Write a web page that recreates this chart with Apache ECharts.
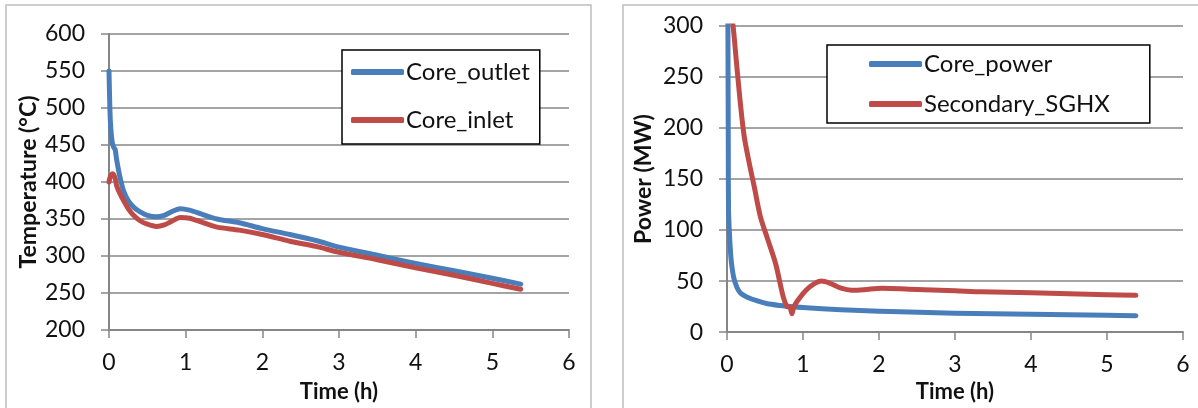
<!DOCTYPE html>
<html>
<head>
<meta charset="utf-8">
<script src="https://cdn.jsdelivr.net/npm/echarts@6/dist/echarts.min.js"></script>
<style>
  html, body { margin: 0; padding: 0; background: #fff; }
  #chart { width: 1198px; height: 408px; }
</style>
</head>
<body>
<div id="chart"></div>
<script>
// left panel: temperatures
const outletTime = [0, 0.01, 0.02, 0.04, 0.06, 0.08, 0.1, 0.14, 0.19, 0.25, 0.32, 0.4, 0.5, 0.62, 0.72, 0.82, 0.93, 1.05, 1.2, 1.41, 1.7, 2, 2.36, 2.7, 3, 3.5, 4, 4.5, 5, 5.37];
const coreOutlet = [550, 505, 478, 455, 447, 444, 430, 408, 388, 375, 366, 360, 355, 353, 355, 360, 364, 362, 357, 350, 345, 337, 329, 321, 312, 301, 290, 280, 270, 262];
const inletTime = [0, 0.02, 0.05, 0.08, 0.1, 0.14, 0.19, 0.25, 0.32, 0.4, 0.5, 0.62, 0.72, 0.82, 0.93, 1.05, 1.2, 1.41, 1.7, 2, 2.36, 2.7, 3, 3.5, 4, 4.5, 5, 5.37];
const coreInlet = [400, 408, 411, 405, 395, 385, 375, 364, 355, 348, 343, 340, 342, 347, 352, 351, 346, 339, 335, 329, 320, 313, 305, 295, 284, 274, 263, 255];

// right panel: power
const powerTime = [0, 0.012, 0.017, 0.02, 0.03, 0.045, 0.06, 0.09, 0.13, 0.18, 0.26, 0.4, 0.52, 0.7, 0.83, 1, 1.5, 2, 2.28, 3, 4, 5, 5.38];
const corePower = [800, 300, 180, 120, 100, 80, 67, 53, 44, 38, 34.5, 30.5, 28, 26, 25, 24, 22, 20.5, 20, 18.5, 17.5, 16.5, 16];
const sghxTime = [0, 0.04, 0.08, 0.12, 0.15, 0.193, 0.23, 0.3, 0.36, 0.44, 0.54, 0.64, 0.74, 0.79, 0.83, 0.855, 0.88, 0.95, 1.04, 1.14, 1.24, 1.35, 1.5, 1.64, 1.8, 2.04, 2.4, 3, 3.35, 4, 4.5, 5, 5.38];
const sghxPower = [345, 320, 300, 268, 244, 212, 190, 163, 142, 113, 90, 67, 34.5, 25, 24, 18, 25, 33, 41, 47, 50, 48, 43, 41, 41.5, 43, 42, 40.5, 39.5, 38.5, 37.5, 36.5, 36];

const xTicks = [0, 1, 2, 3, 4, 5, 6];

const zip = (t, v) => t.map((x, i) => [x, v[i]]);

const FONT = 'Lato';
const GRAY = '#868686';
const BLUE = '#4a7ebb';
const RED = '#be4b48';

function xAxisFor(gi) {
  return {
    type: 'value', gridIndex: gi, min: xTicks[0], max: xTicks[xTicks.length - 1], interval: 1,
    name: 'Time (h)', nameLocation: 'middle', nameGap: gi === 0 ? 51 : 48,
    nameTextStyle: { fontFamily: FONT, fontWeight: 'bold', fontSize: 22, color: '#111' },
    axisLine: { show: true, lineStyle: { color: GRAY, width: 2 } },
    axisTick: { show: true, length: 8, lineStyle: { color: GRAY, width: 1.5 } },
    axisLabel: { fontFamily: FONT, fontSize: 23, color: '#111', margin: 21 },
    splitLine: { show: false }
  };
}

function yAxisFor(gi, min, max, interval, name) {
  return {
    type: 'value', gridIndex: gi, min: min, max: max, interval: interval,
    name: name, nameLocation: 'middle', nameGap: gi === 0 ? 69 : 72,
    nameTextStyle: { fontFamily: FONT, fontWeight: 'bold', fontSize: 23, color: '#111' },
    axisLine: { show: true, lineStyle: { color: GRAY, width: 2 } },
    axisTick: { show: true, length: 8, lineStyle: { color: GRAY, width: 1.5 } },
    axisLabel: { fontFamily: FONT, fontSize: 23, color: '#111', margin: 24 },
    splitLine: { show: true, lineStyle: { color: GRAY, width: 1.5 } }
  };
}

function lineSeries(name, gi, color, data) {
  return {
    name: name, type: 'line', xAxisIndex: gi, yAxisIndex: gi,
    data: data, showSymbol: false, smooth: 0.3, clip: true,
    lineStyle: { color: color, width: 5, cap: 'round', join: 'round' },
    itemStyle: { color: color }
  };
}

const legendBase = {
  orient: 'vertical', icon: 'roundRect', itemWidth: 53, itemHeight: 6,
  backgroundColor: '#fff', borderColor: '#000', borderWidth: 1.5, borderRadius: 0,
  textStyle: { fontFamily: FONT, fontSize: 24, color: '#111', padding: [0, 0, 0, -3] }
};

const chart = echarts.init(document.getElementById('chart'), null, { renderer: 'canvas' });
chart.setOption({
  animation: false,
  backgroundColor: '#fff',
  graphic: [
    { type: 'rect', shape: { x: 6, y: 5, width: 585, height: 420 }, style: { fill: 'none', stroke: '#bdbdbd', lineWidth: 1.5 }, z: -1 },
    { type: 'rect', shape: { x: 623, y: 5, width: 585, height: 420 }, style: { fill: 'none', stroke: '#bdbdbd', lineWidth: 1.5 }, z: -1 }
  ],
  grid: [
    { left: 109, right: 629, top: 34, bottom: 77 },
    { left: 727, right: 15, top: 26, bottom: 72 }
  ],
  xAxis: [xAxisFor(0), xAxisFor(1)],
  yAxis: [
    yAxisFor(0, 200, 600, 50, 'Temperature (°C)'),
    yAxisFor(1, 0, 300, 50, 'Power (MW)')
  ],
  legend: [
    Object.assign({}, legendBase, {
      data: ['Core_outlet', 'Core_inlet'], left: 342, top: 50,
      padding: [10, 10, 12, 9], itemGap: 24
    }),
    Object.assign({}, legendBase, {
      data: ['Core_power', 'Secondary_SGHX'], left: 827, top: 45,
      padding: [7, 40, 7, 42], itemGap: 16
    })
  ],
  series: [
    lineSeries('Core_outlet', 0, BLUE, zip(outletTime, coreOutlet)),
    lineSeries('Core_inlet', 0, RED, zip(inletTime, coreInlet)),
    lineSeries('Core_power', 1, BLUE, zip(powerTime, corePower)),
    lineSeries('Secondary_SGHX', 1, RED, zip(sghxTime, sghxPower))
  ]
});
</script>
</body>
</html>
